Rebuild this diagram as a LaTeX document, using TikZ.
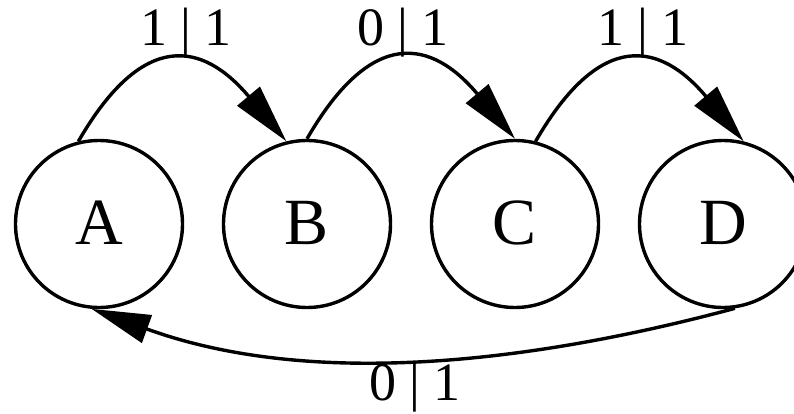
\documentclass[tikz,border=0pt]{standalone}
\usepackage{fontspec}
\setmainfont{Liberation Serif}
\usetikzlibrary{arrows.meta}

\tikzset{
  stnode/.style={circle, draw, line width=3.4pt, minimum size=167pt,
    inner sep=0pt, font=\fontsize{66}{72}\selectfont},
  trans/.style={line width=3.4pt, -{Triangle[length=59pt, width=29pt]}},
  edgelbl/.style={anchor=base, inner sep=0pt, font=\fontsize{54}{60}\selectfont}
}

\begin{document}
\begin{tikzpicture}[x=1pt, y=-1pt]
    \useasboundingbox (0,0) rectangle (794,414);
    \clip (0,0) rectangle (794,414);

    % states
    \node[stnode] (A) at (99,224) {\raisebox{3pt}{A}};
    \node[stnode] (B) at (307,224) {\raisebox{3pt}{B}};
    \node[stnode] (C) at (515,224) {\raisebox{3pt}{C}};
    \node[stnode] (D) at (723,224) {\raisebox{3pt}{D}};

    % transitions
    \draw[trans] (A.104) to[out=60, in=130, looseness=1.6] (B.104);
    \draw[trans] (B.90) to[out=60, in=130, looseness=1.6] (C.90);
    \draw[trans] (C.76) to[out=60, in=130, looseness=1.6] (D.76);
    \draw[trans] (D.-82) to[out=195, in=-20, looseness=0.9] (A.-95);

    % labels
    \node[edgelbl] (lab) at (186,46) {1 | 1};
    \node[edgelbl] (lbc) at (403,46) {0 | 1};
    \node[edgelbl] (lcd) at (643,46) {1 | 1};
    \node[edgelbl] (lda) at (415,400) {0 | 1};
\end{tikzpicture}
\end{document}
